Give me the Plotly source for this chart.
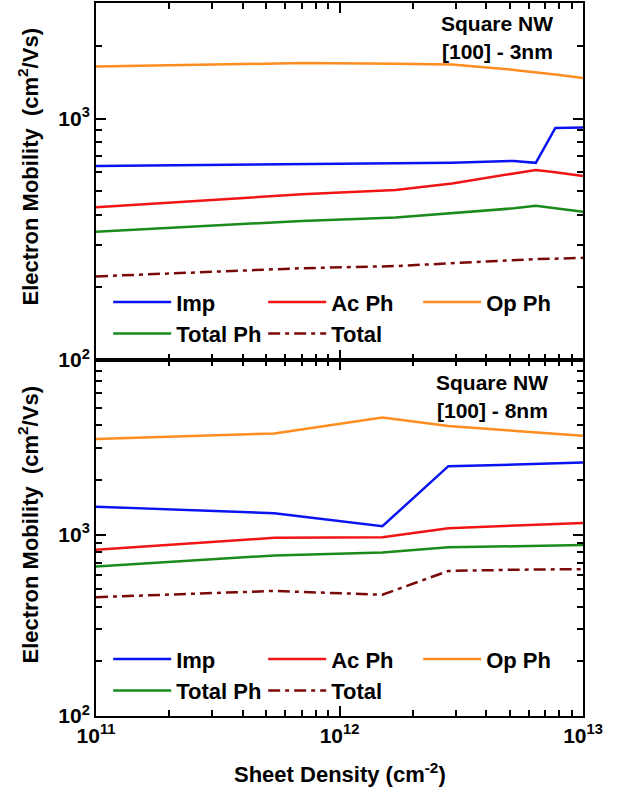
import plotly.graph_objects as go

# ---------------- data ----------------
x_top = [1e11, 7e11, 1.7e12, 2.9e12, 5.2e12, 6.4e12, 7.7e12, 1e13]
imp_top = [637, 647, 652, 657, 668, 656, 915, 918]
acph_top = [429, 486, 506, 538, 593, 612, 600, 578]
opph_top = [1645, 1698, 1687, 1677, 1592, 1560, 1524, 1472]
totph_top = [340, 377, 389, 405, 425, 435, 425, 411]
total_top = [222, 240, 245, 252, 260, 262, 263, 265]

x_bot = [1e11, 5.4e11, 1.5e12, 2.8e12, 5.3e12, 1e13]
imp_bot = [1425, 1310, 1111, 2382, 2433, 2496]
acph_bot = [824, 959, 967, 1083, 1121, 1159]
opph_bot = [3357, 3606, 4416, 3970, 3726, 3500]
totph_bot = [667, 767, 796, 851, 862, 877]
total_bot = [452, 489, 466, 630, 640, 645]

series_names = ["Imp", "Ac Ph", "Op Ph", "Total Ph", "Total"]
series_colors = ["#0a14f0", "#f01414", "#ff8c1e", "#1a8a1a", "#7a0a0a"]
series_dash = ["solid", "solid", "solid", "solid", "12px,5px,4px,5px"]

x_major = [1e11, 1e12, 1e13]
x_major_text = ["<b>10<sup>11</sup></b>", "<b>10<sup>12</sup></b>", "<b>10<sup>13</sup></b>"]
x_minor = [k * 1e11 for k in range(2, 10)] + [k * 1e12 for k in range(2, 10)]
y_major = [100, 1000]
y_major_text = ["<b>10<sup>2</sup></b>", "<b>10<sup>3</sup></b>"]
y_minor = [k * 100 for k in range(2, 10)] + [k * 1000 for k in range(2, 10)]

FONT = "Arial, Liberation Sans, sans-serif"

fig = go.Figure()

top_sets = [imp_top, acph_top, opph_top, totph_top, total_top]
bot_sets = [imp_bot, acph_bot, opph_bot, totph_bot, total_bot]

for name, col, dash, yv in zip(series_names, series_colors, series_dash, top_sets):
    fig.add_trace(go.Scatter(x=x_top, y=yv, mode="lines", name=name,
                             line=dict(color=col, width=2.5, dash=dash),
                             xaxis="x", yaxis="y", legend="legend"))
for name, col, dash, yv in zip(series_names, series_colors, series_dash, bot_sets):
    fig.add_trace(go.Scatter(x=x_bot, y=yv, mode="lines", name=name,
                             line=dict(color=col, width=2.5, dash=dash),
                             xaxis="x2", yaxis="y2", legend="legend2"))

common_x = dict(type="log", range=[11, 13], showline=True, linecolor="black", linewidth=1.8,
                mirror="ticks", ticks="inside", ticklen=10, tickwidth=1.5, tickcolor="black",
                tickmode="array", tickvals=x_major, ticktext=x_major_text,
                tickfont=dict(family=FONT, size=21, color="black"),
                minor=dict(tickmode="array", tickvals=x_minor, ticks="inside", ticklen=6,
                           tickwidth=1.5, tickcolor="black", showgrid=False),
                showgrid=False, zeroline=False, domain=[0, 1])
common_y = dict(type="log", showline=True, linecolor="black", linewidth=1.8,
                mirror="ticks", ticks="inside", ticklen=10, tickwidth=1.5, tickcolor="black",
                tickmode="array", tickvals=y_major, ticktext=y_major_text,
                tickfont=dict(family=FONT, size=21, color="black"),
                minor=dict(tickmode="array", tickvals=y_minor, ticks="inside", ticklen=6,
                           tickwidth=1.5, tickcolor="black", showgrid=False),
                showgrid=False, zeroline=False)

split = (716 - 359) / 715

leg_common = dict(orientation="h", bgcolor="rgba(0,0,0,0)", borderwidth=0,
                  font=dict(family=FONT, size=22, color="black", weight="bold"),
                  itemwidth=58, entrywidth=82, xanchor="left", yanchor="top",
                  tracegroupgap=0, itemclick=False)

fig.update_layout(
    width=622, height=791,
    margin=dict(l=96, r=39, t=1, b=75),
    paper_bgcolor="white", plot_bgcolor="white",
    xaxis=dict(common_x, anchor="y", showticklabels=False),
    yaxis=dict(common_y, anchor="x", domain=[split, 1], range=[2, 3.479]),
    xaxis2=dict(common_x, anchor="y2", showticklabels=True),
    yaxis2=dict(common_y, anchor="x2", domain=[0, split], range=[2, 3.962]),
    legend=dict(leg_common, x=0.025, y=(716 - 280) / 715),
    legend2=dict(leg_common, x=0.025, y=(716 - 638) / 715),
    showlegend=True,
)

ann_font = dict(family=FONT, size=21, color="black")
annotations = [
    dict(text="<b>Square NW</b>", x=(497 - 96) / 487, y=(716 - 22) / 715),
    dict(text="<b>[100] - 3nm</b>", x=(497 - 96) / 487, y=(716 - 50) / 715),
    dict(text="<b>Square NW</b>", x=(492 - 96) / 487, y=(716 - 382) / 715),
    dict(text="<b>[100] - 8nm</b>", x=(492 - 96) / 487, y=(716 - 410) / 715),
]
for a in annotations:
    fig.add_annotation(xref="paper", yref="paper", showarrow=False, xanchor="center",
                       yanchor="middle", font=ann_font, **a)

ytitle = "<b>Electron Mobility  (cm<sup>2</sup>/Vs)</b>"
for yc in [(716 - 165) / 715, (716 - 524) / 715]:
    fig.add_annotation(text=ytitle, xref="paper", yref="paper", x=(28 - 96) / 487, y=yc,
                       showarrow=False, textangle=-90, xanchor="center", yanchor="middle",
                       font=dict(family=FONT, size=22, color="black"))
fig.add_annotation(text="<b>Sheet Density (cm<sup>-2</sup>)</b>", xref="paper", yref="paper",
                   x=(340 - 96) / 487, y=(716 - 773) / 715, showarrow=False,
                   xanchor="center", yanchor="middle",
                   font=dict(family=FONT, size=22, color="black"))

fig.write_html("out.html")
